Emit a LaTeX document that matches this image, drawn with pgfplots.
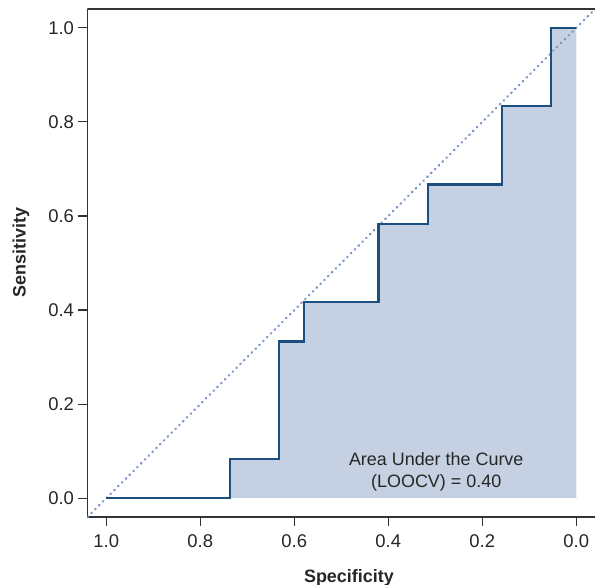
\documentclass[border=0pt]{standalone}
\usepackage{fontspec}
\setmainfont{Liberation Sans}
\usepackage{pgfplots}
\pgfplotsset{compat=1.18}
\definecolor{roc}{HTML}{1C4F7F}
\definecolor{rocfill}{HTML}{C5D0E2}
\definecolor{diag}{HTML}{7B95C6}
\definecolor{axcol}{HTML}{333333}

\begin{document}
\begin{tikzpicture}
\begin{axis}[
  name=ax,
  scale only axis,
  width=507.6bp, height=508bp,
  xmin=-0.04, xmax=1.04, ymin=-0.04, ymax=1.04,
  x dir=reverse,
  axis x line*=bottom, axis y line*=left,
  axis line style={axcol, line width=1.1bp},
  tick style={axcol, line width=1.1bp},
  tick align=outside,
  major tick length=9bp,
  xtick={0,0.2,...,1}, ytick={0,0.2,...,1},
  xticklabel style={/pgf/number format/.cd,fixed,fixed zerofill,precision=1},
  yticklabel style={/pgf/number format/.cd,fixed,fixed zerofill,precision=1},
  /pgf/number format/assume math mode=true,
  ticklabel style={font=\fontsize{18.5}{22}\selectfont, text=black!85},
  xticklabel shift=5bp,
  yticklabel shift=1bp,
  xlabel={\textbf{Specificity}},
  ylabel={\textbf{Sensitivity}},
  label style={font=\fontsize{18}{21}\selectfont, text=black!85},
  xlabel style={at={(rel axis cs:0.515,-0.128)}, anchor=base},
  ylabel style={at={(rel axis cs:-0.131,0.52)}, anchor=center, rotate=0},
  clip=true,
]
% area under the curve
\addplot[fill=rocfill, draw=none] coordinates {
  (1,0) (0.737,0) (0.737,0.0833) (0.632,0.0833) (0.632,0.3333)
  (0.579,0.3333) (0.579,0.4167) (0.421,0.4167) (0.421,0.5833)
  (0.316,0.5833) (0.316,0.6667) (0.158,0.6667) (0.158,0.8333)
  (0.053,0.8333) (0.053,1) (0,1) (0,0)} \closedcycle;
% chance diagonal
\addplot[diag, line width=2.2bp, dash pattern=on 0.8bp off 4.6bp, line cap=round]
  coordinates {(1.04,-0.04) (-0.04,1.04)};
% ROC curve
\addplot[roc, line width=2.2bp] coordinates {
  (1,0) (0.737,0) (0.737,0.0833) (0.632,0.0833) (0.632,0.3333)
  (0.579,0.3333) (0.579,0.4167) (0.421,0.4167) (0.421,0.5833)
  (0.316,0.5833) (0.316,0.6667) (0.158,0.6667) (0.158,0.8333)
  (0.053,0.8333) (0.053,1) (0,1)};
\node[align=center, font=\fontsize{18}{22}\selectfont, text=black!85]
  at (axis cs:0.298,0.056) {Area Under the Curve\\(LOOCV) = 0.40};
\draw[axcol, line width=1.1bp] (rel axis cs:0,1) -- (rel axis cs:1,1);
\end{axis}
\pgfresetboundingbox
\path (ax.south west) ++(-87.5bp,-68bp) rectangle ++(597bp,585bp);
\end{tikzpicture}
\end{document}
